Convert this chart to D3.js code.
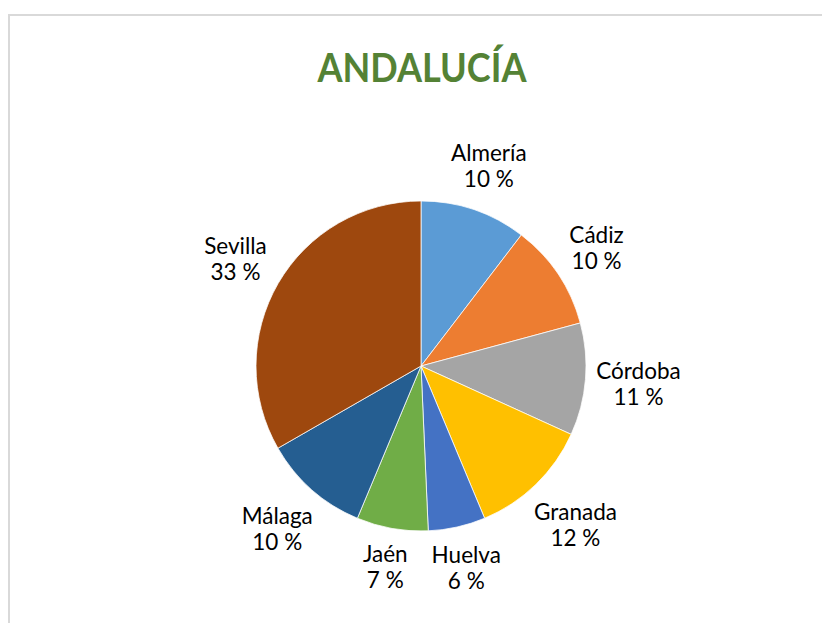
<!DOCTYPE html>
<html>
<head>
<meta charset="utf-8">
<script src="https://cdn.jsdelivr.net/npm/d3@7"></script>
<style>
  body { margin: 0; background: #fff; }
  svg { display: block; }
</style>
</head>
<body>
<div id="chart"></div>
<script>
// provinces and their share
const provinces = ['Almería', 'Cádiz', 'Córdoba', 'Granada', 'Huelva', 'Jaén', 'Málaga', 'Sevilla']
const shares = [10.4, 10.4, 11.0, 11.9, 5.6, 7.0, 10.4, 33.3]
const colors = ['#5B9BD5', '#ED7D31', '#A5A5A5', '#FFC000', '#4472C4', '#70AD47', '#255E91', '#9E480E']

const width = 822
const height = 623
const cx = 421
const cy = 366
const radius = 165

const svg = d3.select('#chart')
    .append('svg')
    .attr('width', width)
    .attr('height', height)

// chart area frame
svg.append('rect')
    .attr('x', 9)
    .attr('y', 15)
    .attr('width', width)
    .attr('height', height)
    .style('fill', '#fff')
    .style('stroke', '#d9d9d9')
    .style('stroke-width', 2)

svg.append('text')
    .attr('x', cx + 1)
    .attr('y', 82)
    .attr('text-anchor', 'middle')
    .attr('textLength', 209)
    .attr('lengthAdjust', 'spacingAndGlyphs')
    .style('font-family', 'Lato, "Open Sans", sans-serif')
    .style('font-weight', 'bold')
    .style('font-size', '40px')
    .style('fill', '#548235')
    .text('ANDALUCÍA')

const data = provinces.map((name, i) => ({name, value: shares[i], color: colors[i]}))
const total = d3.sum(shares)

const pie = d3.pie()
    .sort(null)
    .value(d => d.value)

const arc = d3.arc()
    .innerRadius(0)
    .outerRadius(radius)

const g = svg.append('g')
    .attr('transform', `translate(${cx},${cy})`)

const arcs = pie(data)

g.selectAll('path.slice')
    .data(arcs)
    .enter()
    .append('path')
    .classed('slice', true)
    .attr('d', arc)
    .style('fill', d => d.data.color)
    .style('stroke', '#fff')
    .style('stroke-width', 0.75)

// labels sit outside the pie, pushed out by half their box size
const pad = 9
const lineHeight = 26
const labels = g.selectAll('g.label')
    .data(arcs)
    .enter()
    .append('g')
    .classed('label', true)

labels.each(function (d) {
    const sel = d3.select(this)
    const t = sel.append('text')
        .attr('text-anchor', 'middle')
        .style('font-family', 'Lato, "Open Sans", sans-serif')
        .style('font-size', '22.5px')
        .style('fill', '#000')
    t.append('tspan').attr('x', 0).attr('y', -lineHeight / 2 + 8).text(d.data.name)
    t.append('tspan').attr('x', 0).attr('y', lineHeight / 2 + 8)
        .text(Math.round(d.data.value / total * 100) + ' %')

    const bb = t.node().getBBox()
    const mid = (d.startAngle + d.endAngle) / 2
    const sx = Math.sin(mid)
    const sy = -Math.cos(mid)
    const ext = Math.abs(sx) * bb.width / 2 + Math.abs(sy) * bb.height / 2
    const r = radius + pad + ext
    sel.attr('transform', `translate(${sx * r},${sy * r})`)
})
</script>
</body>
</html>
